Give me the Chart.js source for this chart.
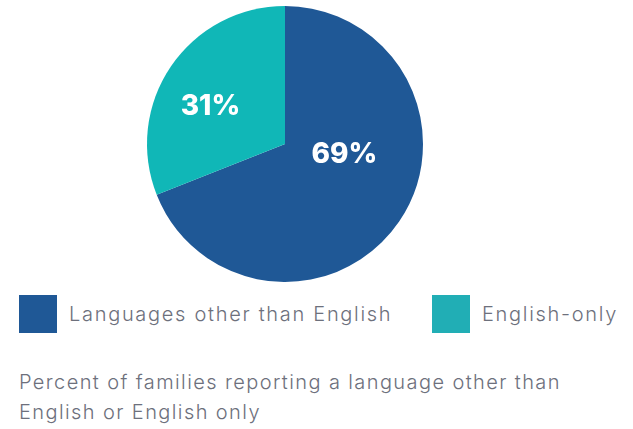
<!DOCTYPE html>
<html>
<head>
<meta charset="utf-8">
<script src="https://cdn.jsdelivr.net/npm/chart.js@4"></script>
<style>
  html, body { margin: 0; padding: 0; background: #fff; }
  body { width: 633px; height: 429px; position: relative; overflow: hidden;
         font-family: "Inter", "Open Sans", sans-serif; color: #6d707c; }
  #pieBox { position: absolute; left: 0; top: 0; width: 570px; height: 288px; }
  #legend { position: absolute; top: 295px; left: 19px; right: 0; height: 38px; }
  .item { position: absolute; top: 0; height: 38px; display: flex; align-items: center; }
  .swatch { width: 38px; height: 38px; margin-right: 12px; }
  .item span { font-size: 20px; font-weight: 300; letter-spacing: 1.7px; }
  #caption { position: absolute; left: 19px; top: 367px; font-size: 20px; font-weight: 300;
             line-height: 30px; letter-spacing: 1.4px; white-space: nowrap; }
</style>
</head>
<body>
<div id="pieBox"><canvas id="pie"></canvas></div>
<div id="legend"></div>
<div id="caption">Percent of families reporting a language other than<br>English or English only</div>
<script>
// ─── Data ─────────────────────────────────────────────────────────────────────
const labels       = ["Languages other than English", "English-only"];
const shares       = [69, 31];
const sliceColors  = ["#1f5896", "#10b7b7"];
const legendColors = ["#1f5896", "#21aeb5"];
const legendLeft   = [0, 413];

// label placement, as fractions of the radius from the pie centre
const labelOffsets = [[0.43, 0.08], [-0.54, -0.27]];

// ─── Percent labels inside slices ─────────────────────────────────────────────
const sliceLabels = {
  id: "sliceLabels",
  afterDatasetsDraw(chart) {
    const { ctx } = chart;
    const meta = chart.getDatasetMeta(0);
    ctx.save();
    ctx.fillStyle = "#fff";
    ctx.font = '800 28px "Inter", "Open Sans", sans-serif';
    ctx.textAlign = "center";
    ctx.textBaseline = "middle";
    meta.data.forEach((arc, i) => {
      const r = arc.outerRadius;
      const [fx, fy] = labelOffsets[i];
      ctx.fillText(shares[i] + "%", arc.x + fx * r, arc.y + fy * r);
    });
    ctx.restore();
  }
};

// ─── Chart ────────────────────────────────────────────────────────────────────
new Chart(document.getElementById("pie"), {
  type: "pie",
  data: {
    labels,
    datasets: [{
      data: shares,
      backgroundColor: sliceColors,
      borderWidth: 0
    }]
  },
  options: {
    responsive: true,
    maintainAspectRatio: false,
    animation: false,
    layout: { padding: { top: 6, bottom: 6 } },
    plugins: {
      legend: { display: false },
      tooltip: { enabled: false }
    }
  },
  plugins: [sliceLabels]
});

// ─── Legend ───────────────────────────────────────────────────────────────────
const legend = document.getElementById("legend");
labels.forEach((name, i) => {
  const item = document.createElement("div");
  item.className = "item";
  item.style.left = legendLeft[i] + "px";
  item.innerHTML = `<div class="swatch" style="background:${legendColors[i]}"></div><span>${name}</span>`;
  legend.appendChild(item);
});
</script>
</body>
</html>
